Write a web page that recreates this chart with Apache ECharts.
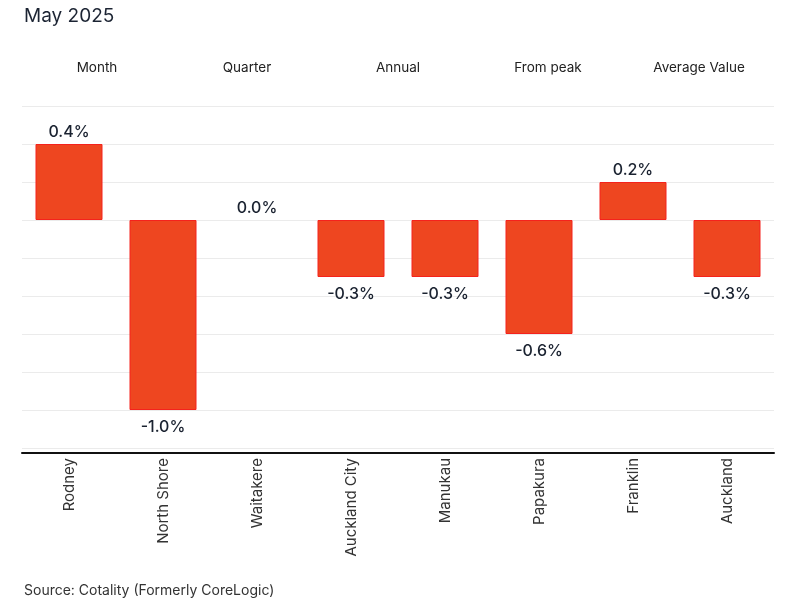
<!DOCTYPE html>
<html>
<head>
<meta charset="utf-8">
<script src="https://cdn.jsdelivr.net/npm/echarts@6/dist/echarts.min.js"></script>
<style>
html,body{margin:0;padding:0;background:#fff;}
#chart{width:800px;height:607px;}
</style>
</head>
<body>
<div id="chart"></div>
<script>
const categories = ['Rodney', 'North Shore', 'Waitakere', 'Auckland City', 'Manukau', 'Papakura', 'Franklin', 'Auckland'];
const values = [0.4, -1.0, 0.0, -0.3, -0.3, -0.6, 0.2, -0.3];
const tabs = ['Month', 'Quarter', 'Annual', 'From peak', 'Average Value'];
const titleText = 'May 2025';
const sourceText = 'Source: Cotality (Formerly CoreLogic)';

const FONT = 'Inter, "Noto Sans", sans-serif';
const chart = echarts.init(document.getElementById('chart'));

const tabX = [97, 247, 398, 548, 699];
const graphics = tabs.map((t, i) => ({
  type: 'text',
  x: tabX[i],
  y: 61,
  style: { text: t, fill: '#222', font: '13.5px ' + FONT, textAlign: 'center' }
}));
graphics.push({
  type: 'text', x: 24, y: 7,
  style: { text: titleText, fill: '#1c2433', font: '19px ' + FONT }
});
graphics.push({
  type: 'text', x: 24, y: 584,
  style: { text: sourceText, fill: '#333', font: '14px ' + FONT }
});

const data = values.map(v => ({
  value: v,
  itemStyle: v === 0 ? { borderWidth: 0 } : {},
  label: { position: v >= 0 ? 'top' : 'bottom', distance: v >= 0 ? 4 : 9 }
}));

chart.setOption({
  animation: false,
  backgroundColor: '#fff',
  graphic: graphics,
  grid: { left: 22, right: 26, top: 106, bottom: 159 },
  xAxis: {
    type: 'category',
    data: categories,
    position: 'bottom',
    offset: 5,
    axisLine: { onZero: false, lineStyle: { color: '#111', width: 2 } },
    axisTick: { show: false },
    axisLabel: { rotate: 90, color: '#333', fontSize: 15, fontFamily: FONT, margin: 5 }
  },
  yAxis: {
    type: 'value',
    min: -1.2,
    max: 0.6,
    interval: 0.2,
    axisLabel: { show: false },
    axisLine: { show: false },
    axisTick: { show: false },
    splitLine: { lineStyle: { color: '#ebebeb', width: 1 } }
  },
  series: [{
    type: 'bar',
    data: data,
    barWidth: 67,
    itemStyle: { color: '#ee4620', borderColor: '#f5221c', borderWidth: 1 },
    label: {
      show: true,
      color: '#1a2230',
      fontSize: 16,
      fontWeight: 500,
      fontFamily: FONT,
      formatter: p => p.value.toFixed(1) + '%'
    }
  }]
});
</script>
</body>
</html>
